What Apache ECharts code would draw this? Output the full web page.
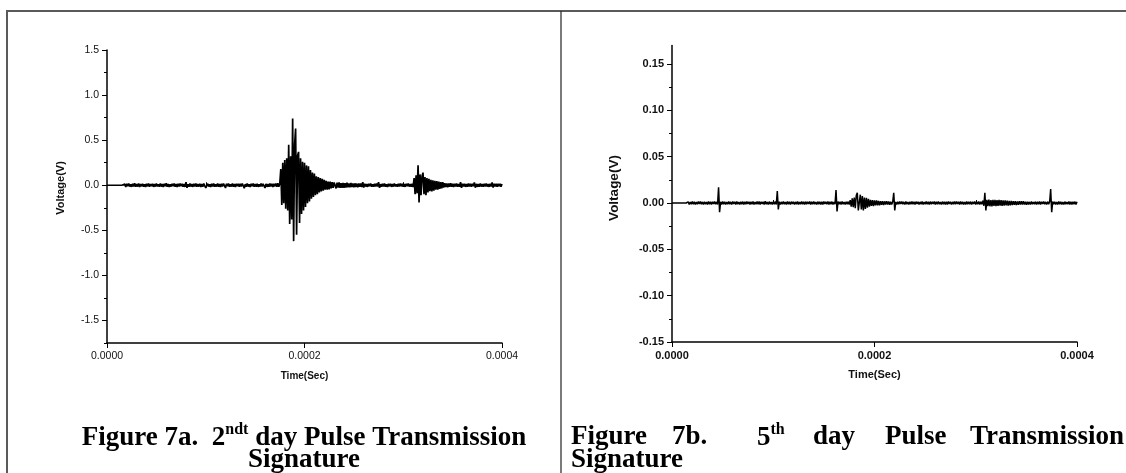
<!DOCTYPE html>
<html><head><meta charset="utf-8">
<script src="https://cdn.jsdelivr.net/npm/echarts@6/dist/echarts.min.js"></script>
<style>html,body{margin:0;padding:0;background:#fff}#c{width:1126px;height:473px}</style>
</head><body><div id="c"></div>
<script>
// sampling interval of the recorded traces (seconds)
const SAMPLE_STEP_SEC = 1e-6;

// axis ticks
const timeTicksMajor = [0, 0.0002, 0.0004];
const timeTicksMinor = [0.0001, 0.0003];
const yTicks7a = [-1.5, -1, -0.5, 0, 0.5, 1, 1.5];
const yMinor7a = [-1.75, -1.25, -0.75, -0.25, 0.25, 0.75, 1.25];
const yTicks7b = [-0.15, -0.1, -0.05, 0, 0.05, 0.1, 0.15];
const yMinor7b = [-0.125, -0.075, -0.025, 0.025, 0.075, 0.125];

// ---- Figure 7a (2nd day) voltage samples ----
const v7a_lead = [0,0,0,0,0,0,0,0,0,0,0,0,0,0,0,0];
const v7a_noise1 = [
 .015,-.018,.012,-.020,.017,-.011,.019,-.015,.010,-.018,.016,-.013,.021,-.017,.012,-.015,.018,-.020,.014,-.012,
 .017,-.016,.011,-.019,.015,-.012,.020,-.017,.013,-.011,.016,-.018,.012,-.015,.019,-.014,.010,-.017,.018,-.015,
 .012,-.019,.016,-.011,.021,-.016,.014,-.018,.011,-.015,.017,-.012,.019,-.017,.012,-.020,.015,-.013,.018,-.011,
 .016,-.017,.013,-.019,.034,-.028,.011,-.016,.020,-.015,.012,-.018,.016,-.013,.019,-.017,.012,-.015,.017,-.019,
 .013,-.016,.018,.033,-.029,-.012,.017,-.015,.011,-.019,.016,-.013,.020,-.017,.010,-.015,.018,-.016,.012,-.020,
 .015,-.013,.019,.036,-.031,.016,-.012,.018,-.017,.011,-.015,.020,-.016,.013,-.019,.017,-.011,.015,-.018,.016,
 -.013,.019,.032,-.034,.012,-.017,.018,-.015,.010,-.019,.016,-.012,.020,-.017,.013,-.016,.017,-.018,.011,-.015,
 .019,-.013,.016,.035,-.030,.015,-.018,.012,-.016,.020,-.013,.017,-.019,.015,-.012,.018,-.016,.021,-.017,.020
];
const v7a_burst1 = [
 .18,-.22,.25,-.20,.28, -.26,.30,-.28,.45,-.43, .32,-.38,.74,-.62,.45, .63,-.55,.33,.37,-.42,
 .30,-.32,.26,-.28,.25, -.24,.22,-.20,.21,-.18, .17,-.15,.14,-.13,.13, -.11,.10,-.10,.09,-.08,
 .08,-.07,.07,-.06,.06, -.05,.05,-.05,.04,-.045, .04,-.035,.035,-.03,.03
];
const v7a_tail1 = [
 .030,-.035,.028,-.026,.032,-.030,.024,-.028,.026,-.030,.022,-.026,.028,-.023,.020,
 -.024,.025,-.021,.019,-.023,.021,-.020,.018,-.022,.020,-.017,.019,-.021,.034,-.027
];
const v7a_noise2 = [
 .017,-.015,.013,-.018,.016,-.012,.019,-.016,.011,-.017,.015,-.013,.018,-.015,.033,-.028,.012,-.017,.016,-.013,
 .018,-.016,.010,-.019,.015,-.012,.017,-.018,.013,-.015,.019,-.013,.011,-.017,.016,-.015,.018,-.012,.015,-.017,
 .013,-.018,.016,-.012,.019,-.015,.012,-.017,.017,-.020
];
const v7a_burst2 = [
 .08,-.10,.11,-.09,.22, -.19,.12,-.11,.10,.14, -.10,.09,-.11,.08,-.08,
 .07,-.065,.06,-.07,.055, -.06,.05,-.05,.045,-.05, .04,-.04,.035,-.035,.035
];
const v7a_noise3 = [
 -.025,.023,-.021,.020,-.023,.019,-.017,.021,-.018,.016,-.019,.017,-.015,.018,-.016,.014,-.017,.034,-.028,.016,
 -.015,.017,-.018,.012,-.016,.019,-.013,.015,-.017,.016,-.012,.032,-.027,.015,-.018,.013,-.016,.018,-.015,.012,
 -.017,.016,-.013,.019,-.015,.012,-.018,.016,-.015,.031,-.027,.017,-.013,.016,-.018,.015,-.012,.017,-.016,.013
];

// ---- Figure 7b (5th day) voltage samples ----
const v7b_lead = [0,0,0,0,0,0,0,0,0,0,0,0,0,0,0,0];
const v7b_noise1 = [
 .0013,-.0015,.0011,-.0014,.0016,-.0012,.0014,-.0017,.0010,-.0013,.0015,-.0011,.0017,-.0014,.0012,-.0016,.0014,-.0013,.0011,-.0015,
 .0016,-.0012,.0014,-.0017,.0013,-.0011,.0015,-.0014,.0012,-.0016,.0170,-.0100,.0013,-.0015,.0017,-.0012,.0014,-.0016,.0011,-.0013,
 .0015,-.0014,.0012,-.0017,.0016,-.0011,.0013,-.0015,.0017,-.0013,.0011,-.0016,.0014,-.0012,.0015,-.0017,.0013,-.0014,.0016,-.0011,
 .0014,-.0015,.0012,-.0013,.0017,-.0016,.0011,-.0014,.0015,-.0012,.0016,-.0017,.0013,-.0011,.0014,-.0015,.0018,-.0013,.0012,-.0016,
 .0015,-.0014,.0011,-.0017,.0013,-.0012,.0016,-.0015,.0130,-.0070,.0014,-.0016,.0012,-.0013,.0017,-.0014,.0011,-.0015,.0016,-.0012,
 .0013,-.0017,.0015,-.0011,.0014,-.0016,.0012,-.0013,.0017,-.0015,.0011,-.0014,.0016,-.0012,.0013,-.0017,.0015,-.0013,.0014,-.0011,
 .0016,-.0015,.0012,-.0014,.0017,-.0013,.0011,-.0016,.0015,-.0012,.0014,-.0017,.0013,-.0015,.0016,-.0011,.0012,-.0014,.0017,-.0016,
 .0013,-.0012,.0015,-.0017,.0011,-.0014,.0140,-.0090,.0016,-.0013,.0012,-.0015,.0017,-.0014,.0011,-.0016,.0014,-.0012,.0015,-.0017
];
const v7b_burst1 = [
 .0030,-.0040,.0050,-.0045,.0060,-.0055,.0080,.0110,-.0080,-.0100,
 .0090,-.0070,.0075,-.0080,.0060,-.0065,.0055,-.0050,.0045,-.0040
];
const v7b_tail1 = [
 .0035,-.0032,.0030,-.0033,.0028,-.0026,.0027,-.0024,.0023,-.0025,
 .0021,-.0020,.0019,-.0021,.0018,-.0017,.0018,-.0016,.0017,-.0018
];
const v7b_noise2 = [
 .0014,-.0015,.0013,.0110,-.0080,.0012,-.0016,.0014,-.0013,.0017,-.0011,.0015,-.0014,.0012,-.0017,.0016,-.0013,.0011,-.0015,.0014,
 -.0012,.0016,-.0014,.0013,-.0017,.0015,-.0011,.0014,-.0016,.0012,-.0013,.0017,-.0015,.0011,-.0014,.0016,-.0012,.0013,-.0017,.0015,
 -.0013,.0014,-.0011,.0016,-.0015,.0012,-.0014,.0017,-.0013,.0011,-.0016,.0015,-.0012,.0014,-.0017,.0013,-.0015,.0016,-.0011,.0014,
 -.0016,.0012,-.0013,.0017,-.0014,.0015,-.0011,.0013,-.0017,.0016,-.0012,.0014,-.0015,.0011,-.0016,.0017,-.0013,.0012,-.0014,.0015,
 -.0017,.0013,-.0011,.0016,-.0015,.0014,-.0012,.0017,-.0016,.0013,-.0014
];
const v7b_burst2 = [
 .0025,-.0030,.0110,-.0080,.0035,-.0033,.0037,-.0035,.0032,-.0036,.0034,-.0031,.0035,-.0034,.0030,
 -.0032,.0033,-.0029,.0031,-.0030,.0027,-.0028,.0029,-.0026,.0025,-.0027,.0024,-.0025,.0023
];
const v7b_tail2 = [
 -.0022,.0021,-.0020,.0019,-.0021,.0018,-.0019,.0020,-.0017,.0018,-.0016,.0019,-.0017,.0015,-.0018
];
const v7b_noise3 = [
 .0014,-.0015,.0012,-.0016,.0017,-.0013,.0011,-.0014,.0015,-.0017,.0013,-.0012,.0016,-.0015,.0014,-.0011,.0017,-.0013,.0012,-.0016,
 .0015,-.0014,.0013,.0150,-.0100,.0016,-.0012,.0014,-.0017,.0011,-.0015,.0016,-.0013,.0014,-.0016,.0012,-.0017,.0015,-.0013,.0011,
 -.0014,.0016,-.0015,.0013,-.0017,.0014,-.0012,.0015,-.0016,.0013
];

const trace7a = [].concat(v7a_lead, v7a_noise1, v7a_burst1, v7a_tail1, v7a_noise2, v7a_burst2, v7a_noise3);
const trace7b = [].concat(v7b_lead, v7b_noise1, v7b_burst1, v7b_tail1, v7b_noise2, v7b_burst2, v7b_tail2, v7b_noise3);
function toPoints(values) { return values.map((v, i) => [i * SAMPLE_STEP_SEC, v]); }

const SANS = 'Liberation Sans, Arial, sans-serif';
const SERIF = 'Liberation Serif, Times New Roman, serif';

function xAxes(gridIndex, bold, fs, nameFs, nameGap) {
  return [{
    type: 'value', gridIndex, min: 0, max: 0.0004,
    axisLine: { show: true, onZero: false, lineStyle: { color: '#000', width: 1.5 } },
    axisTick: { show: true, length: 5, customValues: timeTicksMajor, lineStyle: { color: '#000', width: 1 } },
    axisLabel: { customValues: timeTicksMajor, formatter: v => v.toFixed(4), fontFamily: SANS,
      fontSize: fs, fontWeight: bold ? 'bold' : 'normal', color: '#111', margin: 8 },
    splitLine: { show: false },
    name: 'Time(Sec)', nameLocation: 'middle', nameGap,
    nameTextStyle: { fontFamily: SANS, fontWeight: 'bold', fontSize: nameFs, color: '#111' }
  }, {
    type: 'value', gridIndex, min: 0, max: 0.0004,
    axisLine: { show: false },
    axisTick: { show: true, length: 3, customValues: timeTicksMinor, lineStyle: { color: '#000', width: 1 } },
    axisLabel: { show: false }, splitLine: { show: false }
  }];
}
function yAxes(gridIndex, min, max, major, minor, digits, bold, fs) {
  return [{
    type: 'value', gridIndex, min, max, position: 'left',
    axisLine: { show: true, onZero: false, lineStyle: { color: '#000', width: 1.5 } },
    axisTick: { show: true, length: 5, customValues: major, lineStyle: { color: '#000', width: 1 } },
    axisLabel: { customValues: major, formatter: v => v.toFixed(digits), fontFamily: SANS,
      fontSize: fs, fontWeight: bold ? 'bold' : 'normal', color: '#111', margin: 8 },
    splitLine: { show: false }
  }, {
    type: 'value', gridIndex, min, max, position: 'left',
    axisLine: { show: false },
    axisTick: { show: true, length: 3, customValues: minor, lineStyle: { color: '#000', width: 1 } },
    axisLabel: { show: false }, splitLine: { show: false }
  }];
}

const capStyle = { fontFamily: SERIF, fontWeight: 'bold', fontSize: 27, fill: '#000' };
const capRich = {
  b: { fontFamily: SERIF, fontWeight: 'bold', fontSize: 27, lineHeight: 30, verticalAlign: 'bottom' },
  s: { fontFamily: SERIF, fontWeight: 'bold', fontSize: 16, lineHeight: 30, verticalAlign: 'top' }
};
function word(text, x, y, align) {
  return { type: 'text', style: Object.assign({ text, x, y, align: align || 'left', verticalAlign: 'middle' }, capStyle) };
}
function richText(text, x, y, align) {
  return { type: 'text', style: { text, x, y, align, verticalAlign: 'middle', rich: capRich } };
}
function yName(x, y, fs) {
  return { type: 'text', x, y, rotation: Math.PI / 2,
    style: { text: 'Voltage(V)', x: 0, y: 0, align: 'center', verticalAlign: 'middle',
      fontFamily: SANS, fontWeight: 'bold', fontSize: fs, fill: '#111' } };
}

const chart = echarts.init(document.getElementById('c'), null, { renderer: 'canvas' });
chart.setOption({
  animation: false,
  backgroundColor: '#fff',
  grid: [
    { left: 107, top: 50, width: 395, height: 293 },
    { left: 672, top: 45.5, width: 405, height: 296.5 }
  ],
  xAxis: [].concat(xAxes(0, false, 10.5, 10, 28), xAxes(1, true, 11, 11, 27)),
  yAxis: [].concat(
    yAxes(0, -1.75, 1.5, yTicks7a, yMinor7a, 1, false, 10.5),
    yAxes(1, -0.15, 0.17, yTicks7b, yMinor7b, 2, true, 11)
  ),
  series: [
    { type: 'line', xAxisIndex: 0, yAxisIndex: 0, data: toPoints(trace7a), showSymbol: false, symbol: 'none',
      lineStyle: { color: '#000', width: 1.7 }, sampling: null },
    { type: 'line', xAxisIndex: 2, yAxisIndex: 2, data: toPoints(trace7b), showSymbol: false, symbol: 'none',
      lineStyle: { color: '#000', width: 1.5 } }
  ],
  graphic: [
    { type: 'line', shape: { x1: 6, y1: 11, x2: 1126, y2: 11 }, style: { stroke: '#5a5a5a', lineWidth: 2 } },
    { type: 'line', shape: { x1: 7, y1: 10, x2: 7, y2: 473 }, style: { stroke: '#5a5a5a', lineWidth: 2 } },
    { type: 'line', shape: { x1: 561, y1: 11, x2: 561, y2: 473 }, style: { stroke: '#222', lineWidth: 1.2 } },
    yName(61, 188, 11),
    yName(614, 188, 13.5),
    richText('{b|Figure 7a.  2}{s|ndt}{b| day Pulse Transmission}', 304, 437, 'center'),
    word('Signature', 304, 460, 'center'),
    word('Figure', 571, 437),
    word('7b.', 672, 437),
    richText('{b|5}{s|th}', 757, 437, 'left'),
    word('day', 813, 437),
    word('Pulse', 885, 437),
    word('Transmission', 1124, 437, 'right'),
    word('Signature', 571, 460)
  ]
});
</script></body></html>
